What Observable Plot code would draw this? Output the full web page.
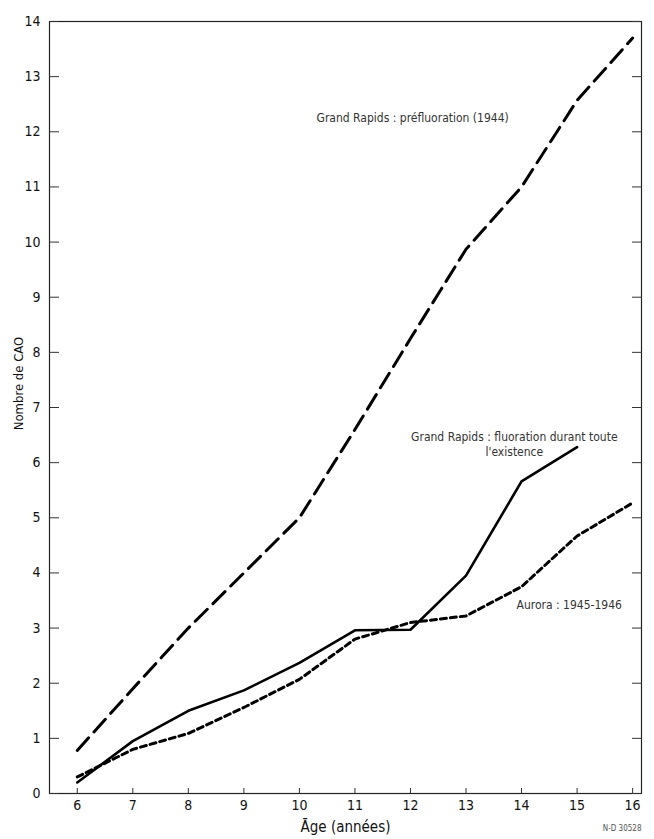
<!DOCTYPE html>
<html>
<head>
<meta charset="utf-8">
<script src="https://cdn.jsdelivr.net/npm/d3@7"></script>
<script src="https://cdn.jsdelivr.net/npm/@observablehq/plot@0.6"></script>
<style>
  html, body { margin: 0; padding: 0; background: #fff; }
  #chart svg { display: block; }
  #chart svg text { font-stretch: condensed; }
</style>
</head>
<body>
<div id="chart"></div>
<script>
// Data
const ages = [6, 7, 8, 9, 10, 11, 12, 13, 14, 15, 16];
const grPre = [0.78, 1.9, 3.0, 4.0, 5.0, 6.6, 8.25, 9.87, 11.0, 12.57, 13.7];
const grFluor = [0.2, 0.95, 1.5, 1.87, 2.37, 2.96, 2.97, 3.95, 5.66, 6.28];
const aurora = [0.3, 0.8, 1.09, 1.56, 2.07, 2.8, 3.1, 3.22, 3.75, 4.67, 5.27];
const yTicks = [0,1,2,3,4,5,6,7,8,9,10,11,12,13,14];
const xTicks = [6,7,8,9,10,11,12,13,14,15,16];
const annotations = [
  {label: "Grand Rapids : préfluoration (1944)", x: 13.77, y: 12.26, anchor: "end"},
  {label: "Grand Rapids : fluoration durant toute\nl'existence", x: 13.87, y: 6.35, anchor: "middle"},
  {label: "Aurora : 1945-1946", x: 13.91, y: 3.43, anchor: "start"}
];
const yLabel = "Nombre de CAO";
const xLabel = "Āge (années)";
const caption = "N-D 30528";

const series = [
  {name: "pre", values: grPre, dash: "17,8", width: 3},
  {name: "fluor", values: grFluor, dash: null, width: 2.6},
  {name: "aurora", values: aurora, dash: "6,4", width: 3}
];
const rows = series.flatMap(s => s.values.map((v, i) => ({series: s.name, age: ages[i], value: v})));

const font = "'Liberation Sans Narrow', 'DejaVu Sans', sans-serif";

const chart = Plot.plot({
  width: 654,
  height: 839,
  marginLeft: 49,
  marginRight: 13,
  marginTop: 21,
  marginBottom: 46,
  style: {fontFamily: font, fontSize: "14px", color: "#111", background: "#fff"},
  x: {domain: [5.5, 16.16]},
  y: {domain: [0, 14]},
  marks: [
    Plot.frame({stroke: "#222", strokeWidth: 1.2}),
    Plot.axisY({ticks: yTicks, tickSize: 0, tickPadding: 9, fontSize: 14, label: null}),
    Plot.axisY({ticks: yTicks, tickSize: -10, tickFormat: () => "", label: null, stroke: "#333"}),
    Plot.axisY({ticks: yTicks, anchor: "right", tickSize: -10, tickFormat: () => "", label: null, stroke: "#333"}),
    Plot.axisX({ticks: xTicks, tickSize: -5, tickPadding: 12, fontSize: 14, label: null, stroke: "#333"}),
    Plot.text([yLabel], {frameAnchor: "left", textAnchor: "middle", rotate: -90, dx: -31, dy: -24, fontSize: 13, fill: "#111"}),
    Plot.text([xLabel], {frameAnchor: "bottom", textAnchor: "middle", dy: 38, fontSize: 15, fill: "#111", letterSpacing: "1px"}),
    ...series.map(s => Plot.line(rows.filter(r => r.series === s.name), {
      x: "age", y: "value", stroke: "#000", strokeWidth: s.width,
      strokeDasharray: s.dash, strokeLinejoin: "round"
    })),
    ...annotations.map(a => Plot.text([a], {
      x: "x", y: "y", text: "label", textAnchor: a.anchor, fontSize: 12,
      fill: "#333", lineHeight: 1.3
    })),
    Plot.text([caption], {frameAnchor: "bottom-right", dy: 37, dx: 0, fontSize: 8, fill: "#555", textAnchor: "end"})
  ]
});
document.getElementById("chart").appendChild(chart);
</script>
</body>
</html>
